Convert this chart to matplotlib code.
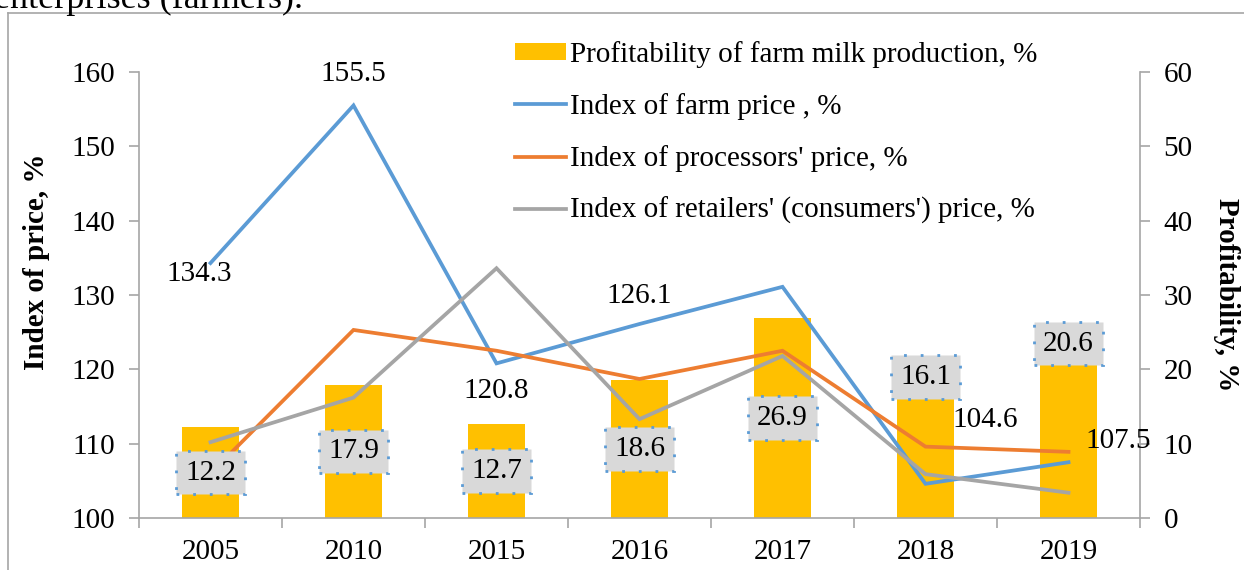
import matplotlib
matplotlib.use("Agg")
import matplotlib.pyplot as plt
from matplotlib.lines import Line2D
from matplotlib.patches import Patch
from matplotlib.ticker import FixedLocator, NullFormatter

# ---- data ----
years = ["2005", "2010", "2015", "2016", "2017", "2018", "2019"]
profitability = [12.2, 17.9, 12.7, 18.6, 26.9, 16.1, 20.6]
farm_price = [134.3, 155.5, 120.8, 126.1, 131.1, 104.6, 107.5]
processors_price = [106.0, 125.3, 122.5, 118.7, 122.5, 109.6, 108.9]
retailers_price = [110.2, 116.2, 133.6, 113.3, 121.8, 105.9, 103.4]
farm_labels = {0: "134.3", 1: "155.5", 2: "120.8", 3: "126.1", 5: "104.6", 6: "107.5"}

legend_labels = ["Profitability of farm milk production, %",
                 "Index of farm price , %",
                 "Index of processors' price, %",
                 "Index of retailers' (consumers') price, %"]

C_BAR = "#ffc000"
C_BLUE = "#5b9bd5"
C_ORANGE = "#ed7d31"
C_GRAY = "#a5a5a5"
C_AX = "#a6a6a6"

plt.rcParams['font.family'] = ['Liberation Serif', 'DejaVu Serif']
FS = 21

W, H = 1244, 570
fig = plt.figure(figsize=(W / 100, H / 100), dpi=100)

# frame of the original document box
fig.add_artist(Line2D([8 / W, 8 / W], [0, 1 - 13 / H], color=C_AX, lw=1.2))
fig.add_artist(Line2D([8 / W, 1], [1 - 13 / H, 1 - 13 / H], color=C_AX, lw=1.2))
fig.text(-6 / W, 1 - 8 / H, "enterprises (farmers).", fontsize=26, va='baseline', ha='left')

left, right = 139 / W, 1140 / W
bottom, top = 1 - 518 / H, 1 - 72 / H
ax2 = fig.add_axes([left, bottom, right - left, top - bottom])  # bars (right axis)
ax = ax2.twinx()  # lines (left axis)

x = list(range(len(years)))

# bars on right axis
ax2.bar(x, profitability, width=0.4, color=C_BAR, zorder=2)
ax2.set_ylim(0, 60)
ax2.set_yticks(range(0, 61, 10))
ax2.yaxis.tick_right()
ax2.yaxis.set_label_position("right")
ax2.set_ylabel("Profitability, %", fontsize=FS, fontweight='bold', rotation=-90, labelpad=34)

# lines on left axis
ax.plot(x, farm_price, color=C_BLUE, lw=2.7, solid_joinstyle='miter')
ax.plot(x, processors_price, color=C_ORANGE, lw=2.7, solid_joinstyle='miter')
ax.plot(x, retailers_price, color=C_GRAY, lw=2.7, solid_joinstyle='miter')
ax.set_ylim(100, 160)
ax.set_yticks(range(100, 161, 10))
ax.yaxis.tick_left()
ax.yaxis.set_label_position("left")
ax.set_ylabel("Index of price, %", fontsize=FS, fontweight='bold')
ax.yaxis.set_label_coords(-0.089, 0.574)

for a in (ax, ax2):
    a.set_xlim(-0.5, len(years) - 0.5)
    for s in a.spines.values():
        s.set_visible(False)
    a.tick_params(axis='y', labelsize=FS, colors='black', length=7, width=1.2, color=C_AX, pad=10)

for side in ('left', 'bottom', 'right'):
    ax.spines[side].set_visible(True)
    ax.spines[side].set_color(C_AX)
    ax.spines[side].set_linewidth(1.2)

# x axis: labels at categories, ticks at boundaries
ax2.set_xticks(x)
ax2.set_xticklabels(years, fontsize=FS)
ax2.xaxis.set_minor_locator(FixedLocator([i + 0.5 for i in range(-1, len(years))]))
ax2.xaxis.set_minor_formatter(NullFormatter())
ax2.tick_params(axis='x', which='major', length=0, pad=15, labelsize=FS)
ax2.tick_params(axis='x', which='minor', length=7, width=1.2, color=C_AX)
ax.tick_params(axis='x', which='both', bottom=False, labelbottom=False)

ax.set_zorder(ax2.zorder + 1)
ax.patch.set_visible(False)

# bar value labels (boxed)
box = dict(boxstyle='square,pad=0.3', facecolor='#d9d9d9', edgecolor=C_BLUE,
           linestyle=(0, (1, 5)), linewidth=2.0)
for i, v in enumerate(profitability):
    if i >= 5:
        ax.annotate(f"{v}", xy=(i, v), xycoords=ax2.transData, xytext=(0, 6),
                    textcoords='offset points', ha='center', va='bottom',
                    fontsize=FS, bbox=box, zorder=10)
    else:
        ax.annotate(f"{v}", xy=(i, v / 2), xycoords=ax2.transData,
                    ha='center', va='center', fontsize=FS, bbox=box, zorder=10)

# farm price value labels
offsets = {0: (-8, -8), 1: (0, 23), 2: (0, -20), 3: (0, 20), 5: (43, 46), 6: (36, 15)}
for i, lab in farm_labels.items():
    dx, dy = offsets[i]
    ax.annotate(lab, xy=(i, farm_price[i]), xytext=(dx, dy), textcoords='offset points',
                ha='center', va='center', fontsize=FS, zorder=11)

# legend
handles = [Patch(facecolor=C_BAR, edgecolor='none'),
           Line2D([], [], color=C_BLUE, lw=2.7),
           Line2D([], [], color=C_ORANGE, lw=2.7),
           Line2D([], [], color=C_GRAY, lw=2.7)]
fig.legend(handles, legend_labels, loc='upper left', bbox_to_anchor=(515 / W, 1 - 41 / H),
           frameon=False, fontsize=FS, handlelength=1.75, handleheight=0.55,
           handletextpad=0.12, labelspacing=0.86, borderaxespad=0, borderpad=0)

fig.savefig("out.png", dpi=100)
